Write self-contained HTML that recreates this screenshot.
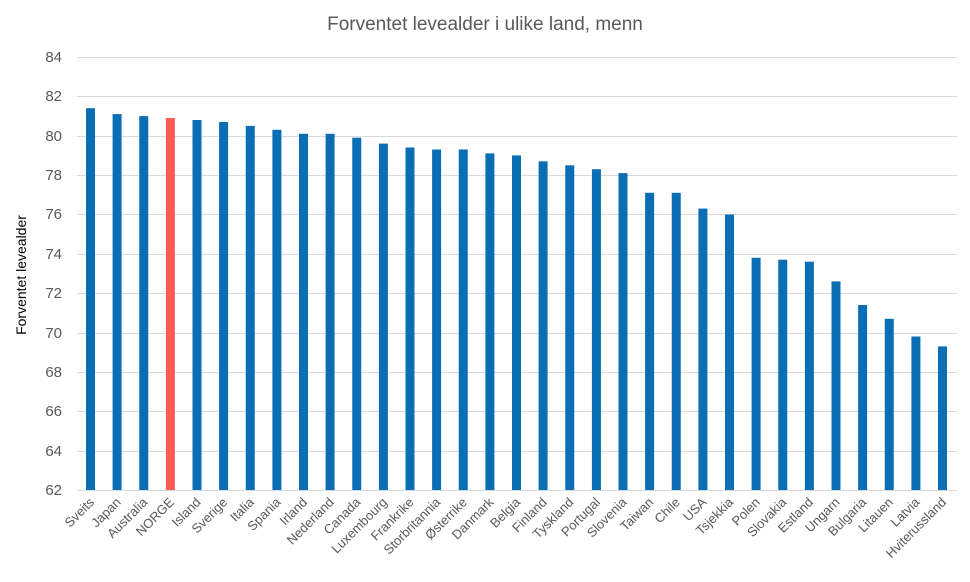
<!DOCTYPE html>
<html><head><meta charset="utf-8"><style>
body{margin:0;background:#fff}
svg{display:block;font-family:"Liberation Sans",Arial,sans-serif}
.t{font-size:15px;fill:#595959;text-anchor:end}
.x{font-size:13px;fill:#595959;text-anchor:end}
.g{stroke:#d9d9d9;stroke-width:1}
</style></head><body>
<svg width="970" height="582" viewBox="0 0 970 582">
<text x="485" y="30" font-size="19" fill="#595959" text-anchor="middle">Forventet levealder i ulike land, menn</text>
<text transform="translate(26,275) rotate(-90)" font-size="14" fill="#000" text-anchor="middle">Forventet levealder</text>
<g>
<line class="g" x1="77" x2="957" y1="57.5" y2="57.5"/>
<line class="g" x1="77" x2="957" y1="96.5" y2="96.5"/>
<line class="g" x1="77" x2="957" y1="136.5" y2="136.5"/>
<line class="g" x1="77" x2="957" y1="175.5" y2="175.5"/>
<line class="g" x1="77" x2="957" y1="214.5" y2="214.5"/>
<line class="g" x1="77" x2="957" y1="254.5" y2="254.5"/>
<line class="g" x1="77" x2="957" y1="293.5" y2="293.5"/>
<line class="g" x1="77" x2="957" y1="333.5" y2="333.5"/>
<line class="g" x1="77" x2="957" y1="372.5" y2="372.5"/>
<line class="g" x1="77" x2="957" y1="411.5" y2="411.5"/>
<line class="g" x1="77" x2="957" y1="451.5" y2="451.5"/>
<line class="g" x1="77" x2="957" y1="490.5" y2="490.5"/>
</g>
<g>
<text class="t" x="62" y="62">84</text>
<text class="t" x="62" y="101">82</text>
<text class="t" x="62" y="141">80</text>
<text class="t" x="62" y="180">78</text>
<text class="t" x="62" y="219">76</text>
<text class="t" x="62" y="259">74</text>
<text class="t" x="62" y="298">72</text>
<text class="t" x="62" y="338">70</text>
<text class="t" x="62" y="377">68</text>
<text class="t" x="62" y="416">66</text>
<text class="t" x="62" y="456">64</text>
<text class="t" x="62" y="495">62</text>
</g>
<g fill="#0A6EB4">
<rect x="86" y="108.2" width="9" height="381.8"/>
<rect x="112.6" y="114.1" width="9" height="375.9"/>
<rect x="139.25" y="116.1" width="9" height="373.9"/>
<rect x="165.9" y="118" width="9" height="372" fill="#FF5B55"/>
<rect x="192.5" y="120" width="9" height="370"/>
<rect x="219.1" y="122" width="9" height="368"/>
<rect x="245.75" y="125.9" width="9" height="364.1"/>
<rect x="272.4" y="129.8" width="9" height="360.2"/>
<rect x="299" y="133.8" width="9" height="356.2"/>
<rect x="325.6" y="133.8" width="9" height="356.2"/>
<rect x="352.25" y="137.7" width="9" height="352.3"/>
<rect x="378.9" y="143.6" width="9" height="346.4"/>
<rect x="405.5" y="147.5" width="9" height="342.5"/>
<rect x="432.1" y="149.5" width="9" height="340.5"/>
<rect x="458.75" y="149.5" width="9" height="340.5"/>
<rect x="485.4" y="153.4" width="9" height="336.6"/>
<rect x="512" y="155.4" width="9" height="334.6"/>
<rect x="538.6" y="161.3" width="9" height="328.7"/>
<rect x="565.25" y="165.3" width="9" height="324.7"/>
<rect x="591.9" y="169.2" width="9" height="320.8"/>
<rect x="618.5" y="173.1" width="9" height="316.9"/>
<rect x="645.1" y="192.8" width="9" height="297.2"/>
<rect x="671.75" y="192.8" width="9" height="297.2"/>
<rect x="698.4" y="208.6" width="9" height="281.4"/>
<rect x="725" y="214.5" width="9" height="275.5"/>
<rect x="751.6" y="257.8" width="9" height="232.2"/>
<rect x="778.25" y="259.7" width="9" height="230.3"/>
<rect x="804.9" y="261.7" width="9" height="228.3"/>
<rect x="831.5" y="281.4" width="9" height="208.6"/>
<rect x="858.1" y="305" width="9" height="185"/>
<rect x="884.75" y="318.8" width="9" height="171.2"/>
<rect x="911.4" y="336.5" width="9" height="153.5"/>
<rect x="938" y="346.4" width="9" height="143.6"/>
</g>
<g>
<text class="x" transform="translate(95,503) rotate(-45)">Sveits</text>
<text class="x" transform="translate(121.6,503) rotate(-45)">Japan</text>
<text class="x" transform="translate(148.25,503) rotate(-45)">Australia</text>
<text class="x" transform="translate(174.9,503) rotate(-45)">NORGE</text>
<text class="x" transform="translate(201.5,503) rotate(-45)">Island</text>
<text class="x" transform="translate(228.1,503) rotate(-45)">Sverige</text>
<text class="x" transform="translate(254.75,503) rotate(-45)">Italia</text>
<text class="x" transform="translate(281.4,503) rotate(-45)">Spania</text>
<text class="x" transform="translate(308,503) rotate(-45)">Irland</text>
<text class="x" transform="translate(334.6,503) rotate(-45)">Nederland</text>
<text class="x" transform="translate(361.25,503) rotate(-45)">Canada</text>
<text class="x" transform="translate(387.9,503) rotate(-45)">Luxembourg</text>
<text class="x" transform="translate(414.5,503) rotate(-45)">Frankrike</text>
<text class="x" transform="translate(441.1,503) rotate(-45)">Storbritannia</text>
<text class="x" transform="translate(467.75,503) rotate(-45)">Østerrike</text>
<text class="x" transform="translate(494.4,503) rotate(-45)">Danmark</text>
<text class="x" transform="translate(521,503) rotate(-45)">Belgia</text>
<text class="x" transform="translate(547.6,503) rotate(-45)">Finland</text>
<text class="x" transform="translate(574.25,503) rotate(-45)">Tyskland</text>
<text class="x" transform="translate(600.9,503) rotate(-45)">Portugal</text>
<text class="x" transform="translate(627.5,503) rotate(-45)">Slovenia</text>
<text class="x" transform="translate(654.1,503) rotate(-45)">Taiwan</text>
<text class="x" transform="translate(680.75,503) rotate(-45)">Chile</text>
<text class="x" transform="translate(707.4,503) rotate(-45)">USA</text>
<text class="x" transform="translate(734,503) rotate(-45)">Tsjekkia</text>
<text class="x" transform="translate(760.6,503) rotate(-45)">Polen</text>
<text class="x" transform="translate(787.25,503) rotate(-45)">Slovakia</text>
<text class="x" transform="translate(813.9,503) rotate(-45)">Estland</text>
<text class="x" transform="translate(840.5,503) rotate(-45)">Ungarn</text>
<text class="x" transform="translate(867.1,503) rotate(-45)">Bulgaria</text>
<text class="x" transform="translate(893.75,503) rotate(-45)">Litauen</text>
<text class="x" transform="translate(920.4,503) rotate(-45)">Latvia</text>
<text class="x" transform="translate(947,503) rotate(-45)">Hviterussland</text>
</g>
</svg>
</body></html>
